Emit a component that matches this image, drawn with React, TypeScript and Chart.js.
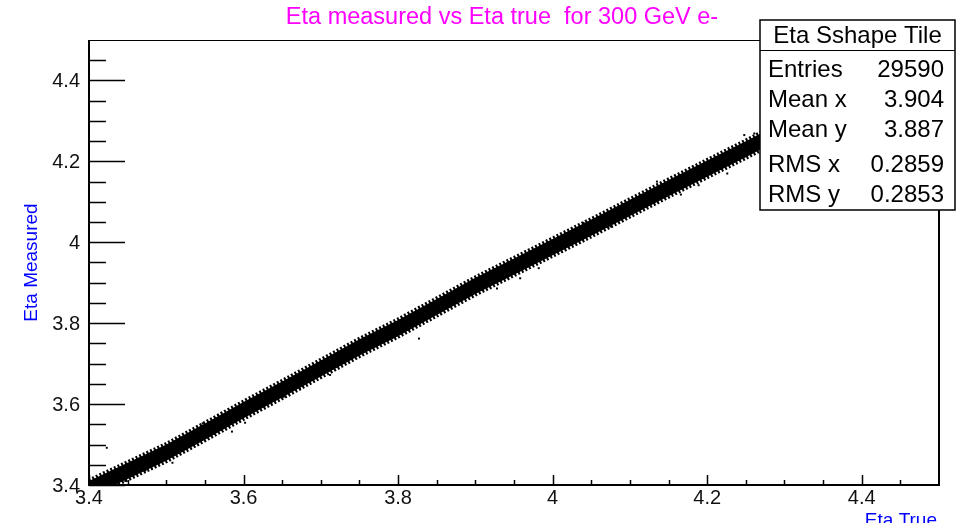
import React, { useEffect, useRef } from "react";
import { Chart, registerables } from "chart.js";

Chart.register(...registerables);

// ---- text ----
const titleText = "Eta measured vs Eta true  for 300 GeV e-";
const xAxisTitle = "Eta True";
const yAxisTitle = "Eta Measured";

// ---- axes ----
const xMin = 3.4;
const xMax = 4.5;
const yMin = 3.4;
const yMax = 4.5;
const xMajorTicks = [3.4, 3.6, 3.8, 4.0, 4.2, 4.4];
const xTickLabels = ["3.4", "3.6", "3.8", "4", "4.2", "4.4"];
const yMajorTicks = [3.4, 3.6, 3.8, 4.0, 4.2, 4.4];
const yTickLabels = ["3.4", "3.6", "3.8", "4", "4.2", "4.4"];
const minorTicks = [3.45, 3.5, 3.55, 3.65, 3.7, 3.75, 3.85, 3.9, 3.95, 4.05, 4.1, 4.15, 4.25, 4.3, 4.35, 4.45];

// ---- stats box ----
const statsTitle = "Eta Sshape Tile";
const statsLabels = ["Entries", "Mean x", "Mean y", "RMS x", "RMS y"];
const statsValues = ["29590", "3.904", "3.887", "0.2859", "0.2853"];

// ---- dense band of entries (edges) ----
const bandX = [3.40, 3.45, 3.50, 3.55, 3.60, 3.65, 3.70, 3.75, 3.80, 3.85, 3.90, 3.95, 4.00, 4.05, 4.10, 4.15, 4.20, 4.25, 4.30, 4.35, 4.40, 4.45, 4.50];
const bandUpper = [3.410, 3.455, 3.500, 3.552, 3.605, 3.656, 3.708, 3.760, 3.808, 3.860, 3.912, 3.960, 4.008, 4.056, 4.105, 4.154, 4.202, 4.250, 4.300, 4.350, 4.400, 4.450, 4.500];
const bandLower = [3.370, 3.415, 3.460, 3.512, 3.565, 3.616, 3.668, 3.720, 3.768, 3.820, 3.872, 3.920, 3.968, 4.016, 4.065, 4.114, 4.162, 4.210, 4.260, 4.310, 4.360, 4.410, 4.460];

// ---- stray entries outside the band ----
const strayX = [3.423, 3.447, 3.464, 3.473, 3.494, 3.508, 3.547, 3.548, 3.567, 3.585, 3.602, 3.652, 3.673, 3.712, 3.723, 3.775, 3.827, 3.919, 3.928, 3.958, 3.982, 4.040, 4.075, 4.135, 4.166, 4.189, 4.226, 4.248, 4.261];
const strayY = [3.492, 3.410, 3.433, 3.436, 3.468, 3.455, 3.552, 3.526, 3.573, 3.532, 3.554, 3.618, 3.639, 3.672, 3.729, 3.773, 3.762, 3.927, 3.886, 3.911, 3.936, 4.048, 4.039, 4.150, 4.118, 4.141, 4.170, 4.265, 4.269];

const FONT = "'Liberation Sans', Arial, Helvetica, sans-serif";

const rootStylePlugin = {
  id: "rootStyle",
  afterDraw(chart: any) {
    const ctx: CanvasRenderingContext2D = chart.ctx;
    const xs = chart.scales.x;
    const ys = chart.scales.y;
    const { left, right, top, bottom } = chart.chartArea;
    ctx.save();

    // frame
    ctx.strokeStyle = "#000";
    ctx.lineWidth = 1;
    ctx.beginPath();
    ctx.moveTo(left, top + 0.5);
    ctx.lineTo(right, top + 0.5);
    ctx.stroke();
    ctx.lineWidth = 2;
    ctx.beginPath();
    ctx.moveTo(left, top);
    ctx.lineTo(left, bottom);
    ctx.lineTo(right, bottom);
    ctx.lineTo(right, top);
    ctx.stroke();

    // ticks
    ctx.lineWidth = 1.5;
    ctx.beginPath();
    xMajorTicks.forEach((v) => {
      const px = Math.round(xs.getPixelForValue(v)) + 0.5;
      ctx.moveTo(px, bottom);
      ctx.lineTo(px, bottom - 10);
    });
    minorTicks.forEach((v) => {
      const px = Math.round(xs.getPixelForValue(v)) + 0.5;
      ctx.moveTo(px, bottom);
      ctx.lineTo(px, bottom - 5);
    });
    yMajorTicks.forEach((v) => {
      const py = Math.round(ys.getPixelForValue(v)) + 0.5;
      ctx.moveTo(left, py);
      ctx.lineTo(left + 36, py);
    });
    minorTicks.forEach((v) => {
      const py = Math.round(ys.getPixelForValue(v)) + 0.5;
      ctx.moveTo(left, py);
      ctx.lineTo(left + 17, py);
    });
    ctx.stroke();

    // tick labels
    ctx.fillStyle = "#111";
    ctx.font = `20px ${FONT}`;
    ctx.textAlign = "center";
    ctx.textBaseline = "alphabetic";
    xMajorTicks.forEach((v, i) => {
      ctx.fillText(xTickLabels[i], xs.getPixelForValue(v), bottom + 19);
    });
    ctx.textAlign = "right";
    ctx.textBaseline = "middle";
    yMajorTicks.forEach((v, i) => {
      ctx.fillText(yTickLabels[i], left - 9, ys.getPixelForValue(v) + 1);
    });

    // title
    ctx.fillStyle = "#ff00ff";
    ctx.font = `23.5px ${FONT}`;
    ctx.textAlign = "center";
    ctx.textBaseline = "alphabetic";
    ctx.fillText(titleText, 502, 24);

    // axis titles
    ctx.fillStyle = "#0000ff";
    ctx.font = `19px ${FONT}`;
    ctx.textAlign = "right";
    ctx.textBaseline = "alphabetic";
    ctx.fillText(xAxisTitle, right - 2, 526);
    ctx.save();
    ctx.translate(37, (top + bottom) / 2);
    ctx.rotate(-Math.PI / 2);
    ctx.textAlign = "center";
    ctx.fillText(yAxisTitle, 0, 0);
    ctx.restore();

    // stats box
    const bx = 760, by = 20, bw = 195, bh = 190;
    ctx.fillStyle = "#fff";
    ctx.fillRect(bx, by, bw, bh);
    ctx.strokeStyle = "#000";
    ctx.lineWidth = 1.5;
    ctx.strokeRect(bx, by, bw, bh);
    ctx.lineWidth = 1;
    ctx.beginPath();
    ctx.moveTo(bx, 50.5);
    ctx.lineTo(bx + bw, 50.5);
    ctx.stroke();
    ctx.fillStyle = "#000";
    ctx.font = `24px ${FONT}`;
    ctx.textAlign = "center";
    ctx.fillText(statsTitle, bx + bw / 2, 43);
    const rowBase = [77, 107, 137, 172, 202];
    statsLabels.forEach((lab, i) => {
      ctx.textAlign = "left";
      ctx.fillText(lab, 768, rowBase[i]);
      ctx.textAlign = "right";
      ctx.fillText(statsValues[i], 944, rowBase[i]);
    });

    ctx.restore();
  },
};

export default function App() {
  const canvasRef = useRef<HTMLCanvasElement | null>(null);

  useEffect(() => {
    const canvas = canvasRef.current;
    if (!canvas) return;
    const upper = bandX.map((x, i) => ({ x, y: bandUpper[i] }));
    const lower = bandX.map((x, i) => ({ x, y: bandLower[i] }));
    const stray = strayX.map((x, i) => ({ x, y: strayY[i] }));
    const chart = new Chart(canvas, {
      type: "scatter",
      data: {
        datasets: [
          {
            data: upper,
            showLine: true,
            fill: "+1",
            backgroundColor: "#000",
            borderColor: "#000",
            borderWidth: 5,
            borderDash: [2, 2],
            pointRadius: 0,
          },
          {
            data: lower,
            showLine: true,
            fill: false,
            backgroundColor: "#000",
            borderColor: "#000",
            borderWidth: 5,
            borderDash: [2, 2],
            pointRadius: 0,
          },
          {
            data: stray,
            showLine: false,
            pointStyle: "rect",
            pointRadius: 1.4,
            pointBorderWidth: 0,
            backgroundColor: "#000",
            borderColor: "#000",
          },
        ],
      },
      options: {
        responsive: false,
        animation: false,
        devicePixelRatio: 1,
        layout: { padding: { left: 89, right: 22, top: 40, bottom: 38 } },
        plugins: { legend: { display: false }, tooltip: { enabled: false }, title: { display: false } },
        scales: {
          x: { type: "linear", min: xMin, max: xMax, display: false },
          y: { type: "linear", min: yMin, max: yMax, display: false },
        },
      },
      plugins: [rootStylePlugin],
    });
    return () => chart.destroy();
  }, []);

  return (
    <div style={{ position: "fixed", left: 0, top: 0, width: 961, height: 523, background: "#fff" }}>
      <canvas ref={canvasRef} width={961} height={523} style={{ display: "block" }} />
    </div>
  );
}
